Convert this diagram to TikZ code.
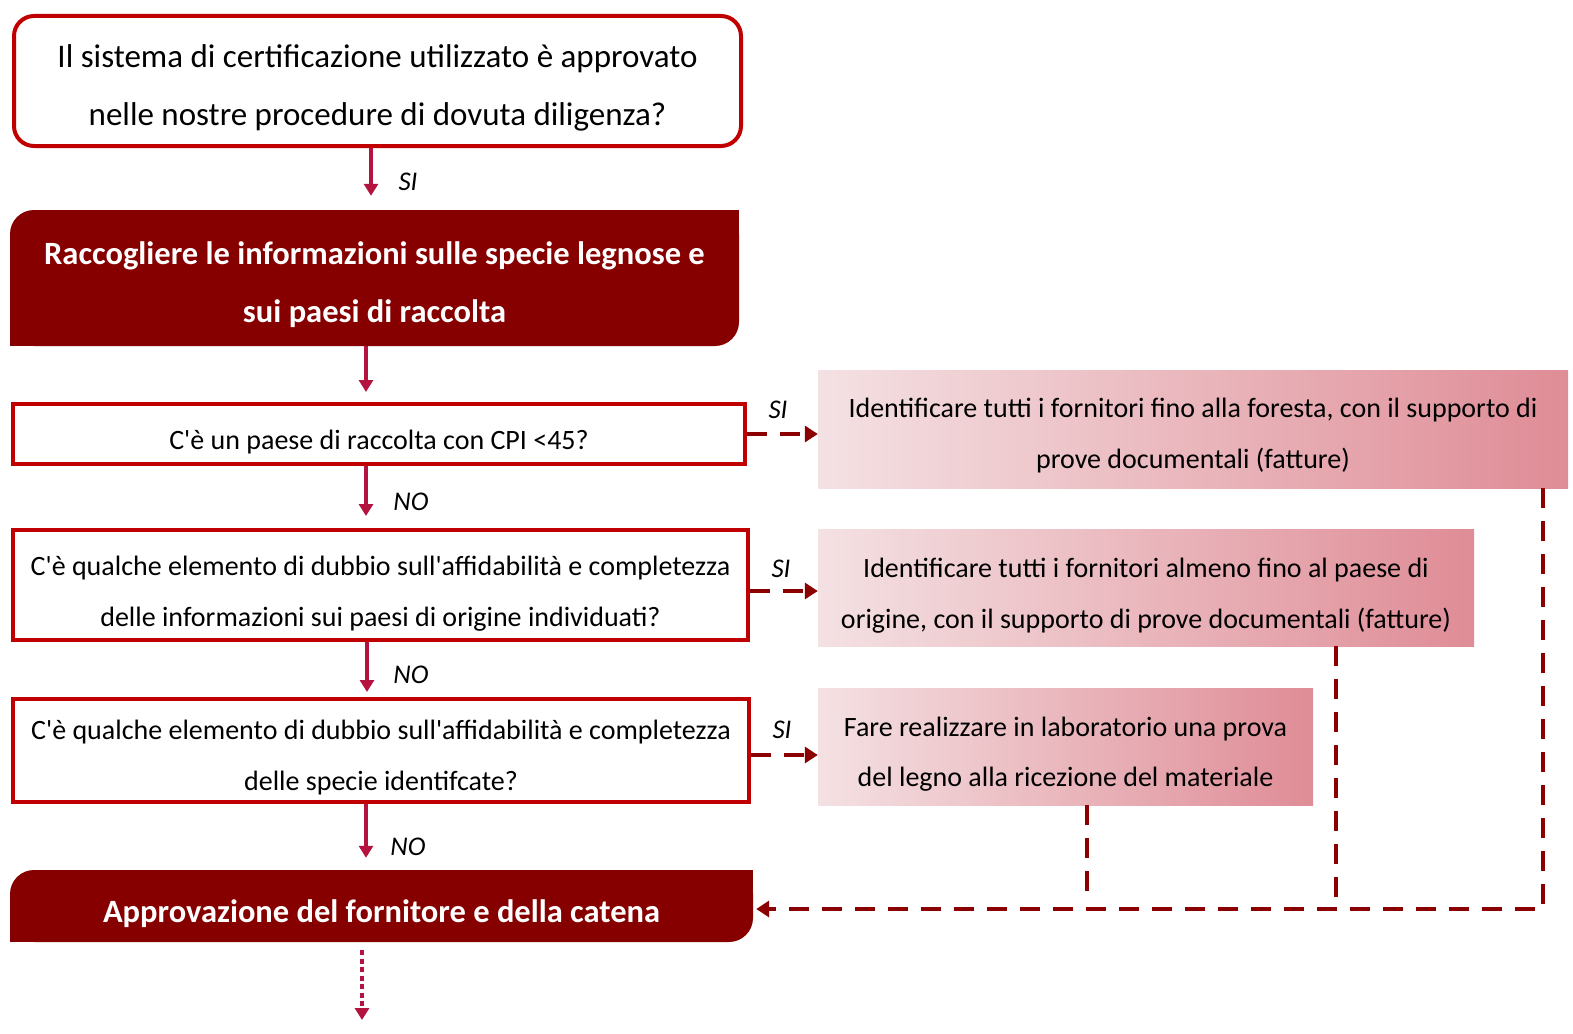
\documentclass[tikz,border=0pt]{standalone}
\usepackage{fontspec}
\setmainfont{Carlito}[Ligatures=TeXOff]
\usetikzlibrary{arrows.meta}
\definecolor{redb}{HTML}{C00000}
\definecolor{darkr}{HTML}{870000}
\definecolor{crim}{HTML}{B4123F}
\definecolor{dred}{HTML}{8B0000}
\definecolor{pinkl}{HTML}{F4E1E3}
\definecolor{pinkr}{HTML}{DF8C96}
\begin{document}
\begin{tikzpicture}[x=1pt,y=-1pt,
  qbox/.style={draw=redb, line width=4pt, fill=white, inner sep=0pt},
  dbox/.style={fill=darkr, inner sep=0pt, rounded corners=24pt},
  pbox/.style={left color=pinkl, right color=pinkr, inner sep=0pt},
  txt/.style={inner sep=0pt, align=center, text=black},
  wtxt/.style={inner sep=0pt, align=center, text=white},
  arr/.style={draw=crim, line width=3.5pt, -{Triangle[width=14pt,length=12pt]}},
  darr/.style={draw=dred, line width=4pt, dash pattern=on 20pt off 13pt, -{Triangle[width=16pt,length=13pt]}},
  dline/.style={draw=dred, line width=4pt, dash pattern=on 20pt off 13pt},
  lab/.style={font=\itshape\fontsize{27}{30}\selectfont, text=black},
  fbig/.style={font=\fontsize{33}{58}\selectfont},
  fbold/.style={font=\bfseries\fontsize{32.5}{58}\selectfont},
  fmid/.style={font=\fontsize{28}{50.5}\selectfont}
]
\useasboundingbox (0,0) rectangle (1573,1033);

% question 1
\node[qbox, rounded corners=20pt, minimum width=727pt, minimum height=130pt] (b1) at (377.5,81) {};
\node[txt, fbig] (b1t) at ([yshift=-7pt]b1.center)
  {Il sistema di certificazione utilizzato è approvato\\nelle nostre procedure di dovuta diligenza?};

% dark box 2
\node[dbox, minimum width=729pt, minimum height=136pt] (b2) at (374.5,278) {};
\fill[darkr] (b2.north east) rectangle ++(-30,30);
\fill[darkr] (b2.south west) rectangle ++(30,-30);
\node[wtxt, fbold] (b2t) at ([yshift=-6.5pt]b2.center)
  {Raccogliere le informazioni sulle specie legnose e\\sui paesi di raccolta};

% question boxes
\node[qbox, minimum width=732pt, minimum height=60pt] (b3) at (379,434) {};
\node[txt, fmid] (b3t) at ([yshift=-8.5pt]b3.center) {C'è un paese di raccolta con CPI <45?};
\node[qbox, minimum width=735pt, minimum height=110pt] (b4) at (380.5,585) {};
\node[txt, fmid] (b4t) at ([yshift=-8.5pt]b4.center)
  {C'è qualche elemento di dubbio sull'affidabilità e completezza\\delle informazioni sui paesi di origine individuati?};
\node[qbox, minimum width=736pt, minimum height=103pt] (b5) at (381,750.5) {};
\node[txt, fmid] (b5t) at ([yshift=-7pt]b5.center)
  {C'è qualche elemento di dubbio sull'affidabilità e completezza\\delle specie identifcate?};

% dark box 6
\node[dbox, minimum width=743pt, minimum height=72pt] (b6) at (381.5,906) {};
\fill[darkr] (b6.north east) rectangle ++(-30,30);
\fill[darkr] (b6.south west) rectangle ++(30,-30);
\node[wtxt, fbold] (b6t) at ([yshift=-7.5pt]b6.center) {Approvazione del fornitore e della catena};

% pink boxes
\node[pbox, minimum width=750pt, minimum height=118pt] (p1) at (1193,429) {};
\node[txt, fmid] (p1t) at ([yshift=-6.5pt]p1.center)
  {Identificare tutti i fornitori fino alla foresta, con il supporto di\\prove documentali (fatture)};
\node[pbox, minimum width=656pt, minimum height=117pt] (p2) at (1146,587.5) {};
\node[txt, fmid] (p2t) at ([yshift=-8pt]p2.center)
  {Identificare tutti i fornitori almeno fino al paese di\\origine, con il supporto di prove documentali (fatture)};
\node[pbox, minimum width=495pt, minimum height=117pt] (p3) at (1065.5,746.5) {};
\node[txt, fmid] (p3t) at ([yshift=-7.5pt]p3.center)
  {Fare realizzare in laboratorio una prova\\del legno alla ricezione del materiale};

% vertical arrows
\draw[arr, shorten >=14pt] ([xshift=-6.5pt]b1.south) coordinate (t1) -- (t1 |- b2.north);
\draw[arr, shorten >=10pt] ([xshift=-8.5pt]b2.south) coordinate (t2) -- (t2 |- b3.north);
\draw[arr, shorten >=12pt] ([xshift=-13pt]b3.south) coordinate (t3) -- (t3 |- b4.north);
\draw[arr, shorten >=5pt] ([xshift=-13.5pt]b4.south) coordinate (t4) -- (t4 |- b5.north);
\draw[arr, shorten >=12pt] ([xshift=-15pt]b5.south) coordinate (t5) -- (t5 |- b6.north);
\coordinate (endp) at (362,1020);
\draw[draw=crim, line width=4pt, dash pattern=on 5pt off 3.5pt, -{Triangle[width=14pt,length=12pt]}, shorten <=8pt]
  ([xshift=-19.5pt]b6.south) -- (endp);

% labels
\node[lab] (l1) at (408,182) {SI};
\node[lab] (l2) at (411,502) {NO};
\node[lab] (l3) at (411,675) {NO};
\node[lab] (l4) at (408,847) {NO};
\node[lab] (l5) at (778,410) {SI};
\node[lab] (l6) at (781,569) {SI};
\node[lab] (l7) at (782,730) {SI};

% dashed SI arrows
\draw[darr] (b3.east) coordinate (s1) -- (s1 -| p1.west);
\draw[darr] ([yshift=-6pt]b4.east) coordinate (s2) -- (s2 -| p2.west);
\draw[darr] ([yshift=-4.5pt]b5.east) coordinate (s3) -- (s3 -| p3.west);

% return lines
\draw[darr, shorten >=3pt] ([xshift=-25pt]p1.south east) coordinate (r1) -- ([yshift=-3pt]r1 |- b6.east) -- ([yshift=-3pt]b6.east);
\draw[dline] ([xshift=-138pt]p2.south east) coordinate (r2) -- ([yshift=-3pt]r2 |- b6.east);
\draw[dline] ([xshift=-226pt]p3.south east) coordinate (r3) -- ([yshift=14pt]r3 |- b6.east);
\end{tikzpicture}
\end{document}
